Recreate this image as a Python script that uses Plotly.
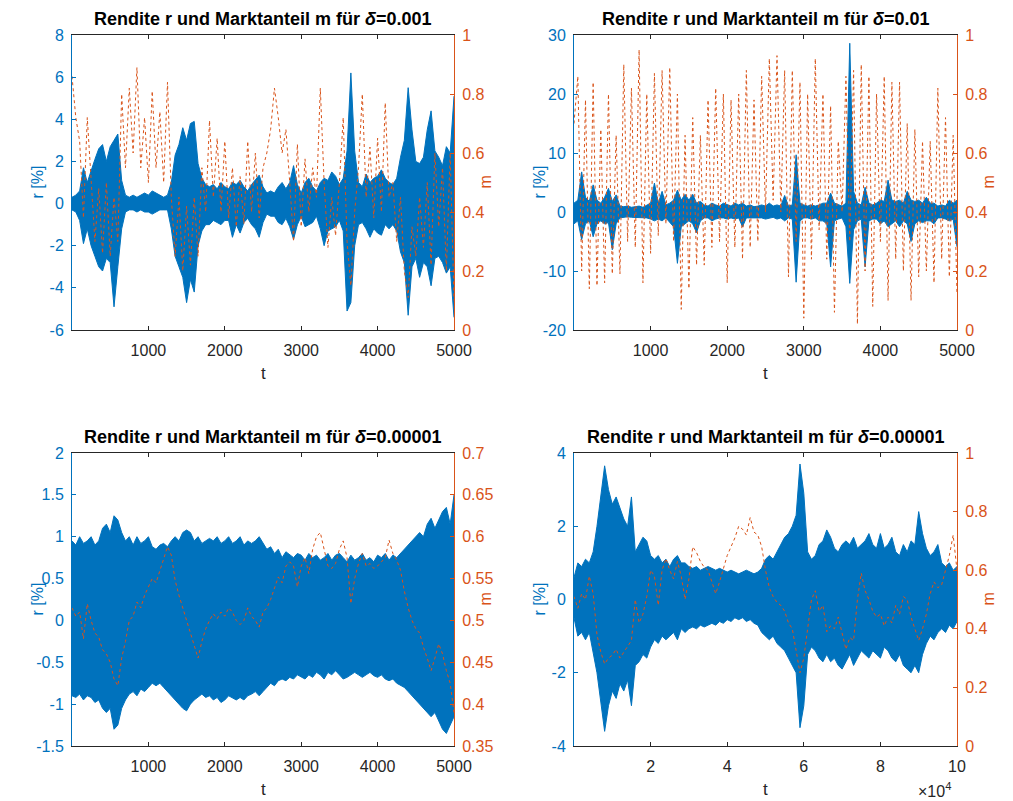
import plotly.graph_objects as go

BLUE = "#0072BD"
ORANGE = "#D95319"
DARK = "#262626"

# ---------------- data ----------------
t_short = list(range(0, 5001, 50))
t_long = list(range(0, 100001, 1000))

# Panel 1 (delta=0.001): envelope of r [%] and market share m
r1_upper = [0.3,0.4,0.6,1.7,1.0,1.6,2.1,2.6,2.8,2.0,
            2.7,3.0,3.3,1.1,0.4,0.3,0.4,0.3,0.4,0.5,
            0.4,0.6,0.5,0.4,0.3,0.4,1.0,2.3,2.8,3.6,
            3.0,3.8,3.9,1.9,1.2,0.9,0.8,0.9,0.7,1.0,
            0.8,0.7,1.0,0.9,1.1,0.8,0.6,0.9,1.1,1.35,
            0.8,0.5,0.6,0.5,0.8,1.0,0.7,1.0,1.8,0.9,
            0.5,1.0,1.2,0.8,0.6,1.0,1.2,1.1,1.5,1.3,
            0.9,1.2,2.5,6.2,2.5,1.0,0.8,1.4,1.0,1.2,
            1.3,1.6,1.2,1.0,0.9,1.2,2.2,3.0,5.5,3.5,
            2.0,1.9,2.2,3.5,4.4,2.5,2.2,1.8,2.7,2.4,
            5.1]
r1_lower = [-0.3,-0.4,-0.8,-1.9,-1.2,-2.0,-2.5,-3.0,-3.2,-2.6,
            -2.8,-4.9,-3.0,-1.2,-0.4,-0.3,-0.3,-0.4,-0.3,-0.4,
            -0.4,-0.5,-0.4,-0.3,-0.3,-0.3,-1.2,-2.5,-3.0,-3.5,
            -4.7,-3.6,-4.2,-2.0,-1.3,-1.0,-1.0,-0.8,-0.9,-1.0,
            -0.8,-0.8,-1.6,-1.0,-1.4,-0.9,-0.7,-1.0,-1.2,-1.6,
            -0.9,-0.5,-0.6,-0.6,-0.9,-1.0,-0.7,-1.1,-1.7,-1.0,
            -0.6,-1.1,-1.0,-0.9,-0.6,-1.2,-2.0,-1.3,-1.2,-1.1,
            -0.8,-1.3,-5.1,-4.7,-2.0,-1.0,-0.9,-1.2,-1.6,-1.2,
            -1.4,-1.5,-1.0,-1.2,-1.0,-1.3,-2.3,-2.8,-5.3,-3.0,
            -2.6,-3.5,-2.8,-3.0,-3.9,-2.6,-2.5,-2.8,-3.3,-3.0,
            -5.4]
m1 = [0.86,0.72,0.64,0.38,0.72,0.50,0.30,0.48,0.26,0.50,
      0.25,0.45,0.30,0.80,0.55,0.82,0.60,0.89,0.55,0.72,
      0.50,0.81,0.55,0.74,0.50,0.84,0.45,0.25,0.45,0.20,
      0.42,0.22,0.45,0.25,0.55,0.40,0.71,0.45,0.65,0.40,
      0.64,0.38,0.55,0.35,0.52,0.36,0.64,0.40,0.60,0.38,
      0.55,0.60,0.68,0.82,0.72,0.60,0.68,0.50,0.30,0.63,
      0.35,0.58,0.40,0.55,0.45,0.82,0.50,0.28,0.45,0.32,
      0.50,0.72,0.30,0.15,0.40,0.55,0.80,0.45,0.62,0.38,
      0.65,0.40,0.77,0.45,0.50,0.30,0.45,0.20,0.11,0.35,
      0.25,0.45,0.28,0.50,0.22,0.60,0.35,0.55,0.20,0.60,
      0.10]

# Panel 2 (delta=0.01)
r2_upper = [1.5,2.0,6.8,2.5,1.8,4.6,2.0,1.5,2.5,4.0,
            1.8,2.9,1.0,0.9,1.0,0.8,0.9,1.0,0.8,1.2,
            1.5,4.9,1.5,3.5,1.2,1.5,2.0,3.7,2.0,3.0,
            2.0,3.0,1.5,1.8,1.2,1.0,1.5,1.2,1.0,1.5,
            1.2,1.0,1.5,1.2,1.5,1.0,1.2,0.9,1.0,1.2,
            1.0,1.5,1.0,1.2,1.0,2.8,1.0,1.2,9.7,1.5,
            1.2,1.0,1.2,1.0,1.2,1.5,1.5,3.2,1.5,1.2,
            1.0,1.5,28.6,3.5,1.5,1.2,4.2,1.5,1.2,1.5,
            2.0,1.8,5.4,2.0,1.8,2.0,1.5,3.5,2.0,1.8,
            2.0,1.5,2.5,1.5,1.5,1.0,1.2,1.0,2.0,1.5,
            2.0]
r2_lower = [-2.0,-1.5,-4.7,-2.0,-1.5,-4.2,-2.0,-1.5,-2.0,-1.8,
            -6.4,-2.0,-1.0,-0.9,-0.8,-0.9,-0.9,-1.0,-0.9,-1.0,
            -1.2,-1.5,-1.2,-1.5,-1.0,-1.8,-2.5,-8.7,-2.5,-2.0,
            -1.5,-2.0,-3.5,-1.5,-1.0,-1.0,-1.5,-1.2,-1.0,-1.0,
            -1.2,-1.0,-1.2,-1.0,-2.5,-1.0,-1.0,-0.9,-1.0,-1.0,
            -1.2,-1.0,-0.9,-1.2,-1.0,-1.5,-1.0,-1.2,-11.9,-1.5,
            -1.0,-1.0,-1.2,-1.0,-1.5,-1.5,-2.0,-9.3,-1.5,-1.2,
            -1.0,-2.5,-12.1,-3.0,-1.5,-1.2,-9.3,-1.5,-1.2,-1.2,
            -2.0,-1.5,-2.5,-2.0,-1.5,-2.5,-1.5,-2.0,-5.0,-2.0,
            -1.5,-1.8,-1.5,-1.5,-2.0,-1.0,-1.0,-1.2,-1.5,-1.2,
            -5.9]
m2 = [0.70,0.86,0.20,0.78,0.14,0.84,0.15,0.68,0.16,0.80,
      0.19,0.66,0.19,0.90,0.30,0.82,0.28,0.95,0.16,0.80,
      0.26,0.87,0.32,0.88,0.36,0.89,0.30,0.80,0.07,0.66,
      0.14,0.72,0.22,0.66,0.22,0.78,0.28,0.82,0.30,0.80,
      0.16,0.78,0.28,0.80,0.24,0.88,0.28,0.78,0.30,0.86,
      0.40,0.92,0.44,0.93,0.40,0.88,0.18,0.88,0.30,0.84,
      0.04,0.80,0.24,0.92,0.34,0.80,0.24,0.76,0.06,0.64,
      0.40,0.86,0.30,0.88,0.02,0.90,0.20,0.86,0.08,0.80,
      0.30,0.86,0.10,0.84,0.24,0.84,0.20,0.70,0.10,0.68,
      0.18,0.64,0.20,0.64,0.16,0.82,0.24,0.72,0.18,0.66,
      0.12]

# Panel 3 (delta=0.00001, 5000 steps)
r3_upper = [0.95,0.90,1.00,0.92,0.95,1.00,0.90,0.95,1.10,1.15,
            1.05,1.25,1.20,1.05,0.95,1.00,0.90,1.00,0.92,0.95,
            1.00,0.88,0.85,0.90,0.92,0.88,0.95,1.00,0.95,1.05,
            1.08,1.05,0.95,1.00,0.92,0.95,0.98,0.95,1.00,0.92,
            0.95,1.00,0.92,0.95,1.00,0.90,0.95,0.92,0.95,1.00,
            0.92,0.85,0.88,0.80,0.85,0.75,0.82,0.78,0.75,0.80,
            0.78,0.72,0.80,0.75,0.78,0.72,0.75,0.80,0.72,0.78,
            0.80,0.75,0.70,0.78,0.72,0.75,0.80,0.72,0.75,0.70,
            0.78,0.75,0.80,0.72,0.78,0.75,0.80,0.85,0.90,0.95,
            1.00,1.05,1.00,1.15,1.22,1.10,1.20,1.30,1.35,1.15,
            1.50]
r3_lower = [-0.90,-0.92,-0.88,-0.95,-0.90,-0.92,-0.98,-0.95,-1.05,-1.10,
            -1.05,-1.30,-1.25,-1.05,-0.95,-0.88,-0.85,-0.90,-0.82,-0.85,
            -0.80,-0.75,-0.78,-0.75,-0.80,-0.85,-0.90,-0.95,-1.00,-1.05,
            -1.08,-1.00,-0.95,-0.92,-0.88,-0.92,-0.90,-0.95,-0.92,-0.98,
            -0.95,-0.90,-0.93,-0.95,-0.92,-0.95,-0.90,-0.88,-0.85,-0.90,
            -0.85,-0.80,-0.75,-0.78,-0.72,-0.70,-0.72,-0.68,-0.70,-0.65,
            -0.68,-0.70,-0.65,-0.68,-0.62,-0.65,-0.70,-0.62,-0.65,-0.60,
            -0.65,-0.70,-0.68,-0.65,-0.62,-0.65,-0.68,-0.65,-0.62,-0.66,
            -0.68,-0.65,-0.70,-0.72,-0.70,-0.75,-0.78,-0.80,-0.85,-0.90,
            -0.95,-1.00,-1.05,-1.10,-1.15,-1.10,-1.20,-1.30,-1.35,-1.25,
            -1.15]
m3 = [0.515,0.505,0.510,0.478,0.520,0.500,0.485,0.480,0.465,0.460,
      0.450,0.430,0.422,0.455,0.475,0.500,0.505,0.522,0.515,0.530,
      0.540,0.550,0.545,0.560,0.575,0.588,0.578,0.548,0.530,0.515,
      0.500,0.488,0.470,0.455,0.475,0.490,0.500,0.508,0.502,0.510,
      0.505,0.515,0.510,0.500,0.495,0.500,0.515,0.505,0.500,0.492,
      0.510,0.515,0.525,0.540,0.552,0.545,0.565,0.570,0.565,0.540,
      0.565,0.575,0.556,0.585,0.600,0.605,0.585,0.565,0.562,0.568,
      0.585,0.595,0.575,0.520,0.550,0.568,0.580,0.565,0.568,0.562,
      0.565,0.570,0.575,0.596,0.580,0.572,0.560,0.535,0.515,0.500,
      0.490,0.485,0.468,0.455,0.440,0.455,0.472,0.460,0.440,0.425,
      0.390]

# Panel 4 (delta=0.00001, 100000 steps)
r4_upper = [0.6,1.0,0.9,1.1,1.0,1.3,2.0,2.8,3.65,3.0,
            2.6,2.8,2.5,2.2,2.0,2.8,1.3,1.5,1.7,1.6,
            1.2,1.1,1.2,1.0,1.1,0.9,1.1,1.2,1.0,1.0,
            0.9,0.85,0.9,0.8,0.85,0.9,0.85,0.8,0.85,0.8,
            0.75,0.8,0.75,0.7,0.75,0.8,0.75,0.7,0.75,0.85,
            1.1,1.2,1.1,1.3,1.5,1.7,1.8,2.0,2.3,3.7,
            2.9,1.3,1.1,1.2,1.5,1.6,1.9,1.7,1.4,1.3,
            1.5,1.6,1.5,1.7,1.4,1.5,1.6,1.8,1.5,1.4,
            1.8,1.4,1.5,1.7,1.3,1.2,1.5,1.3,1.6,1.5,
            2.4,1.8,1.4,1.2,1.3,1.5,1.0,0.9,1.0,0.8,
            0.9]
r4_lower = [-0.5,-1.0,-0.9,-1.1,-0.9,-1.4,-2.0,-2.8,-3.6,-2.9,
            -2.5,-2.7,-2.3,-2.5,-2.2,-2.9,-1.8,-1.7,-1.5,-1.6,
            -1.3,-1.1,-1.2,-1.0,-1.1,-1.0,-0.9,-1.1,-0.8,-0.9,
            -0.8,-0.75,-0.8,-0.7,-0.75,-0.7,-0.65,-0.7,-0.6,-0.65,
            -0.55,-0.6,-0.5,-0.55,-0.5,-0.6,-0.55,-0.65,-0.7,-0.9,
            -1.0,-1.1,-1.0,-1.2,-1.3,-1.4,-1.6,-1.8,-2.0,-3.5,
            -2.9,-1.5,-1.3,-1.4,-1.6,-1.7,-1.5,-1.7,-1.6,-1.8,
            -1.9,-1.7,-1.5,-1.8,-1.6,-1.4,-1.5,-1.6,-1.4,-1.5,
            -1.6,-1.3,-1.4,-1.6,-1.7,-1.5,-1.8,-1.9,-2.0,-1.8,
            -2.0,-1.5,-1.2,-1.0,-1.1,-0.9,-0.8,-0.9,-0.7,-0.8,
            -0.6]
m4 = [0.51,0.47,0.52,0.50,0.58,0.52,0.38,0.32,0.28,0.30,
      0.31,0.33,0.30,0.32,0.34,0.36,0.50,0.42,0.45,0.51,
      0.60,0.58,0.48,0.60,0.64,0.60,0.57,0.63,0.58,0.50,
      0.57,0.68,0.66,0.63,0.61,0.60,0.56,0.52,0.56,0.61,
      0.65,0.68,0.71,0.75,0.74,0.72,0.78,0.73,0.72,0.68,
      0.60,0.54,0.51,0.49,0.48,0.46,0.42,0.40,0.32,0.25,
      0.30,0.40,0.50,0.53,0.46,0.48,0.39,0.41,0.40,0.44,
      0.38,0.33,0.37,0.36,0.50,0.59,0.53,0.50,0.46,0.44,
      0.45,0.41,0.44,0.42,0.48,0.45,0.51,0.50,0.44,0.40,
      0.36,0.40,0.45,0.52,0.56,0.54,0.55,0.60,0.65,0.72,
      0.60]

titles = ["Rendite r und Marktanteil m für <i>δ</i>=0.001",
          "Rendite r und Marktanteil m für <i>δ</i>=0.01",
          "Rendite r und Marktanteil m für <i>δ</i>=0.00001",
          "Rendite r und Marktanteil m für <i>δ</i>=0.00001"]

left_ticks = [[-6, -4, -2, 0, 2, 4, 6, 8],
              [-20, -10, 0, 10, 20, 30],
              [-1.5, -1, -0.5, 0, 0.5, 1, 1.5, 2],
              [-4, -2, 0, 2, 4]]
right_ticks = [[0, 0.2, 0.4, 0.6, 0.8, 1],
               [0, 0.2, 0.4, 0.6, 0.8, 1],
               [0.35, 0.4, 0.45, 0.5, 0.55, 0.6, 0.65, 0.7],
               [0, 0.2, 0.4, 0.6, 0.8, 1]]
x_ticks_short = [1000, 2000, 3000, 4000, 5000]
x_ticks_long = [20000, 40000, 60000, 80000, 100000]
x_ticklabels_long = ["2", "4", "6", "8", "10"]

# ---------------- layout geometry (pixels) ----------------
W, H = 1013, 801
px_cols = [(72, 454), (574, 957)]
px_rows = [(35, 330), (453, 746)]

FONT = "Liberation Sans, Arial, Helvetica, sans-serif"
TICK = 16

def lab(v):
    return "%g" % v

fig = go.Figure()
layout = dict(
    width=W, height=H, autosize=False,
    margin=dict(l=0, r=0, t=0, b=0, pad=0, autoexpand=False),
    paper_bgcolor="white", plot_bgcolor="white", showlegend=False,
    font=dict(family=FONT, size=TICK, color=DARK),
)
annotations = []

panels = [
    (t_short, r1_upper, r1_lower, m1),
    (t_short, r2_upper, r2_lower, m2),
    (t_short, r3_upper, r3_lower, m3),
    (t_long, r4_upper, r4_lower, m4),
]

for k, (tt, up, lo, mm) in enumerate(panels):
    row, col = divmod(k, 2)
    x0, x1 = px_cols[col]
    y0, y1 = px_rows[row]
    xd = [x0 / W, x1 / W]
    yd = [1 - y1 / H, 1 - y0 / H]
    xa = "x" if k == 0 else f"x{k+1}"
    ya_l = "y" if k == 0 else f"y{2*k+1}"
    ya_r = f"y{2*k+2}"
    xkey = "xaxis" if k == 0 else f"xaxis{k+1}"
    ylkey = "yaxis" if k == 0 else f"yaxis{2*k+1}"
    yrkey = f"yaxis{2*k+2}"

    # blue r band (envelope of the rapidly oscillating return series)
    fig.add_trace(go.Scatter(x=tt, y=lo, xaxis=xa, yaxis=ya_l, mode="lines",
                             line=dict(color=BLUE, width=1), hoverinfo="skip"))
    fig.add_trace(go.Scatter(x=tt, y=up, xaxis=xa, yaxis=ya_l, mode="lines",
                             line=dict(color=BLUE, width=1), fill="tonexty",
                             fillcolor=BLUE, hoverinfo="skip"))
    # orange m dotted
    fig.add_trace(go.Scatter(x=tt, y=mm, xaxis=xa, yaxis=ya_r, mode="lines",
                             line=dict(color=ORANGE, width=1, dash="dot"),
                             hoverinfo="skip"))

    if k == 3:
        xr = [0, 100000]
        xtv, xtt = x_ticks_long, x_ticklabels_long
    else:
        xr = [0, 5000]
        xtv, xtt = x_ticks_short, [str(v) for v in x_ticks_short]

    layout[xkey] = dict(domain=xd, anchor=ya_l, range=xr, tickvals=xtv, ticktext=xtt,
                        ticks="inside", ticklen=4, tickcolor=DARK, showline=True,
                        linecolor=DARK, linewidth=1, mirror="ticks", showgrid=False,
                        zeroline=False, ticklabelstandoff=6, automargin=False,
                        tickfont=dict(size=TICK, color=DARK, family=FONT))
    lt = left_ticks[k]
    layout[ylkey] = dict(domain=yd, anchor=xa, range=[lt[0], lt[-1]], tickvals=lt,
                         ticktext=[lab(v) for v in lt], ticks="inside", ticklen=4,
                         tickcolor=BLUE, showline=True, linecolor=BLUE, linewidth=1,
                         showgrid=False, zeroline=False, ticklabelstandoff=4,
                         automargin=False,
                         tickfont=dict(size=TICK, color=BLUE, family=FONT))
    rt = right_ticks[k]
    layout[yrkey] = dict(domain=yd, anchor=xa, overlaying=ya_l, side="right",
                         range=[rt[0], rt[-1]], tickvals=rt,
                         ticktext=[lab(v) for v in rt], ticks="inside", ticklen=4,
                         tickcolor=ORANGE, showline=True, linecolor=ORANGE, linewidth=1,
                         showgrid=False, zeroline=False, ticklabelstandoff=4,
                         automargin=False,
                         tickfont=dict(size=TICK, color=ORANGE, family=FONT))

    cx = (x0 + x1) / 2 / W
    # title
    annotations.append(dict(text="<b>" + titles[k] + "</b>", x=cx, y=1 - (y0 - 16) / H,
                            xref="paper", yref="paper", showarrow=False,
                            xanchor="center", yanchor="middle",
                            font=dict(size=18, color="black", family=FONT)))
    # x label
    annotations.append(dict(text="t", x=cx, y=1 - (y1 + 43) / H, xref="paper", yref="paper",
                            showarrow=False, xanchor="center", yanchor="middle",
                            font=dict(size=17, color=DARK, family=FONT)))
    cy = 1 - (y0 + y1) / 2 / H
    annotations.append(dict(text="r [%]", x=(x0 - 35) / W, y=cy, xref="paper", yref="paper",
                            showarrow=False, xanchor="center", yanchor="middle", textangle=-90,
                            font=dict(size=16, color=BLUE, family=FONT)))
    annotations.append(dict(text="m", x=(x1 + 31) / W, y=cy, xref="paper", yref="paper",
                            showarrow=False, xanchor="center", yanchor="middle", textangle=-90,
                            font=dict(size=16, color=ORANGE, family=FONT)))

annotations.append(dict(text="×10<sup>4</sup>", x=934 / W, y=1 - 790 / H, xref="paper",
                        yref="paper", showarrow=False, xanchor="center", yanchor="middle",
                        font=dict(size=16, color=DARK, family=FONT)))
layout["annotations"] = annotations
fig.update_layout(**layout)
fig.write_html(
    "out.html",
    post_script="document.body.style.margin='0';document.body.style.overflow='hidden';"
                "document.documentElement.style.overflow='hidden';",
)
